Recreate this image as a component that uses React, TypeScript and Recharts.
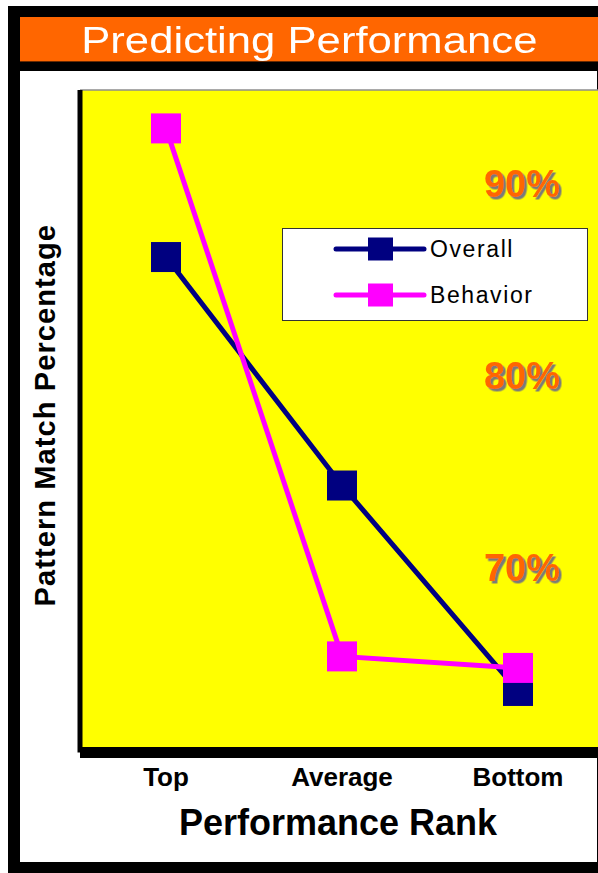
import React from 'react';
import { LineChart, Line, XAxis, YAxis, CartesianGrid, Legend, ReferenceLine, Label } from 'recharts';

// Performance rank categories and pattern-match percentages per series
const ranks = ['Top', 'Average', 'Bottom'];
const overall = [86.3, 74.4, 63.7];
const behavior = [93.0, 65.5, 64.9];
const seriesOrder = ['Overall', 'Behavior'];

// Axis / grid values
const gridTicks = [65, 70, 75, 80, 85, 90];
const axisTicks = [65, 70, 75, 80, 85, 90, 95];
const pctTicks = [70, 80, 90];

const data = ranks.map((rank, i) => ({ rank, Overall: overall[i], Behavior: behavior[i] }));

const FONT = "Arial, 'Liberation Sans', Helvetica, sans-serif";
const NAVY = '#000080';
const MAGENTA = '#ff00ff';
const ORANGE = '#ff6600';

const squareDot = (size: number) => (props: any) => {
  const { cx, cy, stroke, index } = props;
  if (cx == null || cy == null) return <g key={index} />;
  return <rect key={index} x={cx - size / 2} y={cy - size / 2} width={size} height={size} fill={stroke} />;
};

const RankTick = (props: any) => {
  const { x, y, payload } = props;
  return (
    <text x={x} y={y + 34} textAnchor="middle" fontFamily={FONT} fontSize={26} fontWeight="bold" fill="#000">
      {payload.value}
    </text>
  );
};

const PctTick = (props: any) => {
  const { x, y, payload, index } = props;
  return (
    <g>
      {index === 0 && (
        <defs>
          <filter id="pctShadow" x="-10%" y="-10%" width="130%" height="140%">
            <feDropShadow dx={2.5} dy={2.5} stdDeviation={0.4} floodColor="#7a7a7a" floodOpacity={1} />
          </filter>
        </defs>
      )}
      <text
        x={x}
        y={y + 11}
        textAnchor="end"
        fontFamily={FONT}
        fontSize={38}
        fontWeight="bold"
        fill={ORANGE}
        filter="url(#pctShadow)"
      >
        {payload.value}%
      </text>
    </g>
  );
};

const YTitle = (props: any) => {
  const { viewBox } = props;
  const cy = viewBox.y + viewBox.height / 2 - 6;
  return (
    <text
      transform={`translate(55, ${cy}) rotate(-90)`}
      textAnchor="middle"
      fontFamily={FONT}
      fontSize={29}
      fontWeight="bold"
      letterSpacing={1.1}
      fill="#000"
    >
      Pattern Match Percentage
    </text>
  );
};

const XTitle = (props: any) => {
  const { viewBox } = props;
  return (
    <text
      x={viewBox.x + viewBox.width / 2 - 4}
      y={viewBox.y + 83}
      textAnchor="middle"
      fontFamily={FONT}
      fontSize={36}
      fontWeight="bold"
      fill="#000"
    >
      Performance Rank
    </text>
  );
};

const LegendBox = (props: any) => {
  const payload = [...(props.payload || [])].sort(
    (a: any, b: any) => seriesOrder.indexOf(a.value) - seriesOrder.indexOf(b.value)
  );
  return (
    <div
      style={{
        position: 'relative',
        boxSizing: 'border-box',
        width: 306,
        height: 93,
        background: '#fff',
        border: '1.5px solid #333',
      }}
    >
      {payload.map((entry: any, i: number) => (
        <div
          key={entry.value}
          style={{ position: 'absolute', left: 50, top: 6.5 + i * 46, height: 26, display: 'flex', alignItems: 'center' }}
        >
          <svg width={94} height={26} style={{ display: 'block' }}>
            <line x1={3} y1={13} x2={91} y2={13} stroke={entry.color} strokeWidth={5} strokeLinecap="round" />
            <rect x={35} y={1.5} width={25} height={23} fill={entry.color} />
          </svg>
          <span style={{ fontFamily: FONT, fontSize: 23, letterSpacing: 1.6, color: '#000', marginLeft: 3, lineHeight: '26px' }}>
            {entry.value}
          </span>
        </div>
      ))}
    </div>
  );
};

export default function App() {
  return (
    <div style={{ position: 'fixed', left: 0, top: 0, width: 598, height: 873, overflow: 'hidden', background: '#fff' }}>
      {/* outer black frame */}
      <div style={{ position: 'absolute', left: 8, top: 6, width: 600, height: 867, background: '#000' }} />
      <div style={{ position: 'absolute', left: 20, top: 71, width: 577, height: 791, background: '#fff' }} />
      {/* title bar */}
      <div
        style={{
          position: 'absolute',
          left: 20,
          top: 17,
          width: 590,
          height: 45,
          background: ORANGE,
          borderBottom: '1.5px solid #6b2a00',
          boxSizing: 'border-box',
        }}
      >
        <div style={{ position: 'absolute', left: 0, width: 578, top: 1, textAlign: 'center', lineHeight: '45px' }}>
          <span
            style={{
              display: 'inline-block',
              fontFamily: FONT,
              fontSize: 37,
              color: '#fff',
              transform: 'scaleX(1.18)',
              whiteSpace: 'nowrap',
            }}
          >
            Predicting Performance
          </span>
        </div>
      </div>
      <div style={{ position: 'absolute', left: 0, top: 0 }}>
        <LineChart width={604} height={873} data={data} margin={{ top: 90, right: 0, bottom: 20.6, left: 0 }}>
          <CartesianGrid
            vertical={false}
            horizontalValues={gridTicks}
            fill="#ffff00"
            fillOpacity={1}
            stroke="#5c5c00"
            strokeWidth={2}
          />
          <ReferenceLine y={95} yAxisId="left" stroke="#8c8c8c" strokeWidth={1.5} />
          <XAxis
            dataKey="rank"
            type="category"
            scale="point"
            padding={{ left: 86, right: 86 }}
            height={100}
            tickLine={false}
            tickSize={0}
            tickMargin={0}
            axisLine={{ stroke: '#000', strokeWidth: 11 }}
            tick={<RankTick />}
            interval={0}
          >
            <Label content={<XTitle />} />
          </XAxis>
          <YAxis
            yAxisId="left"
            orientation="left"
            width={80}
            domain={[60.5, 95]}
            ticks={axisTicks}
            type="number"
            allowDataOverflow
            tick={false}
            tickSize={8}
            tickLine={{ stroke: '#000', strokeWidth: 1.5 }}
            axisLine={{ stroke: '#000', strokeWidth: 5 }}
          >
            <Label content={<YTitle />} />
          </YAxis>
          <YAxis
            yAxisId="pct"
            orientation="right"
            mirror
            width={36}
            domain={[60.5, 95]}
            ticks={pctTicks}
            type="number"
            allowDataOverflow
            axisLine={false}
            tickLine={false}
            tickSize={0}
            tickMargin={44}
            tick={<PctTick />}
          />
          <Legend
            layout="horizontal"
            align="center"
            verticalAlign="middle"
            wrapperStyle={{ left: 282, top: 228, width: 306, height: 93 }}
            content={<LegendBox />}
          />
          <Line
            yAxisId="left"
            dataKey="Overall"
            name="Overall"
            stroke={NAVY}
            strokeWidth={5}
            dot={squareDot(30)}
            activeDot={false}
            isAnimationActive={false}
          />
          <Line
            yAxisId="left"
            dataKey="Behavior"
            name="Behavior"
            stroke={MAGENTA}
            strokeWidth={5}
            dot={squareDot(30)}
            activeDot={false}
            isAnimationActive={false}
          />
        </LineChart>
      </div>
    </div>
  );
}
